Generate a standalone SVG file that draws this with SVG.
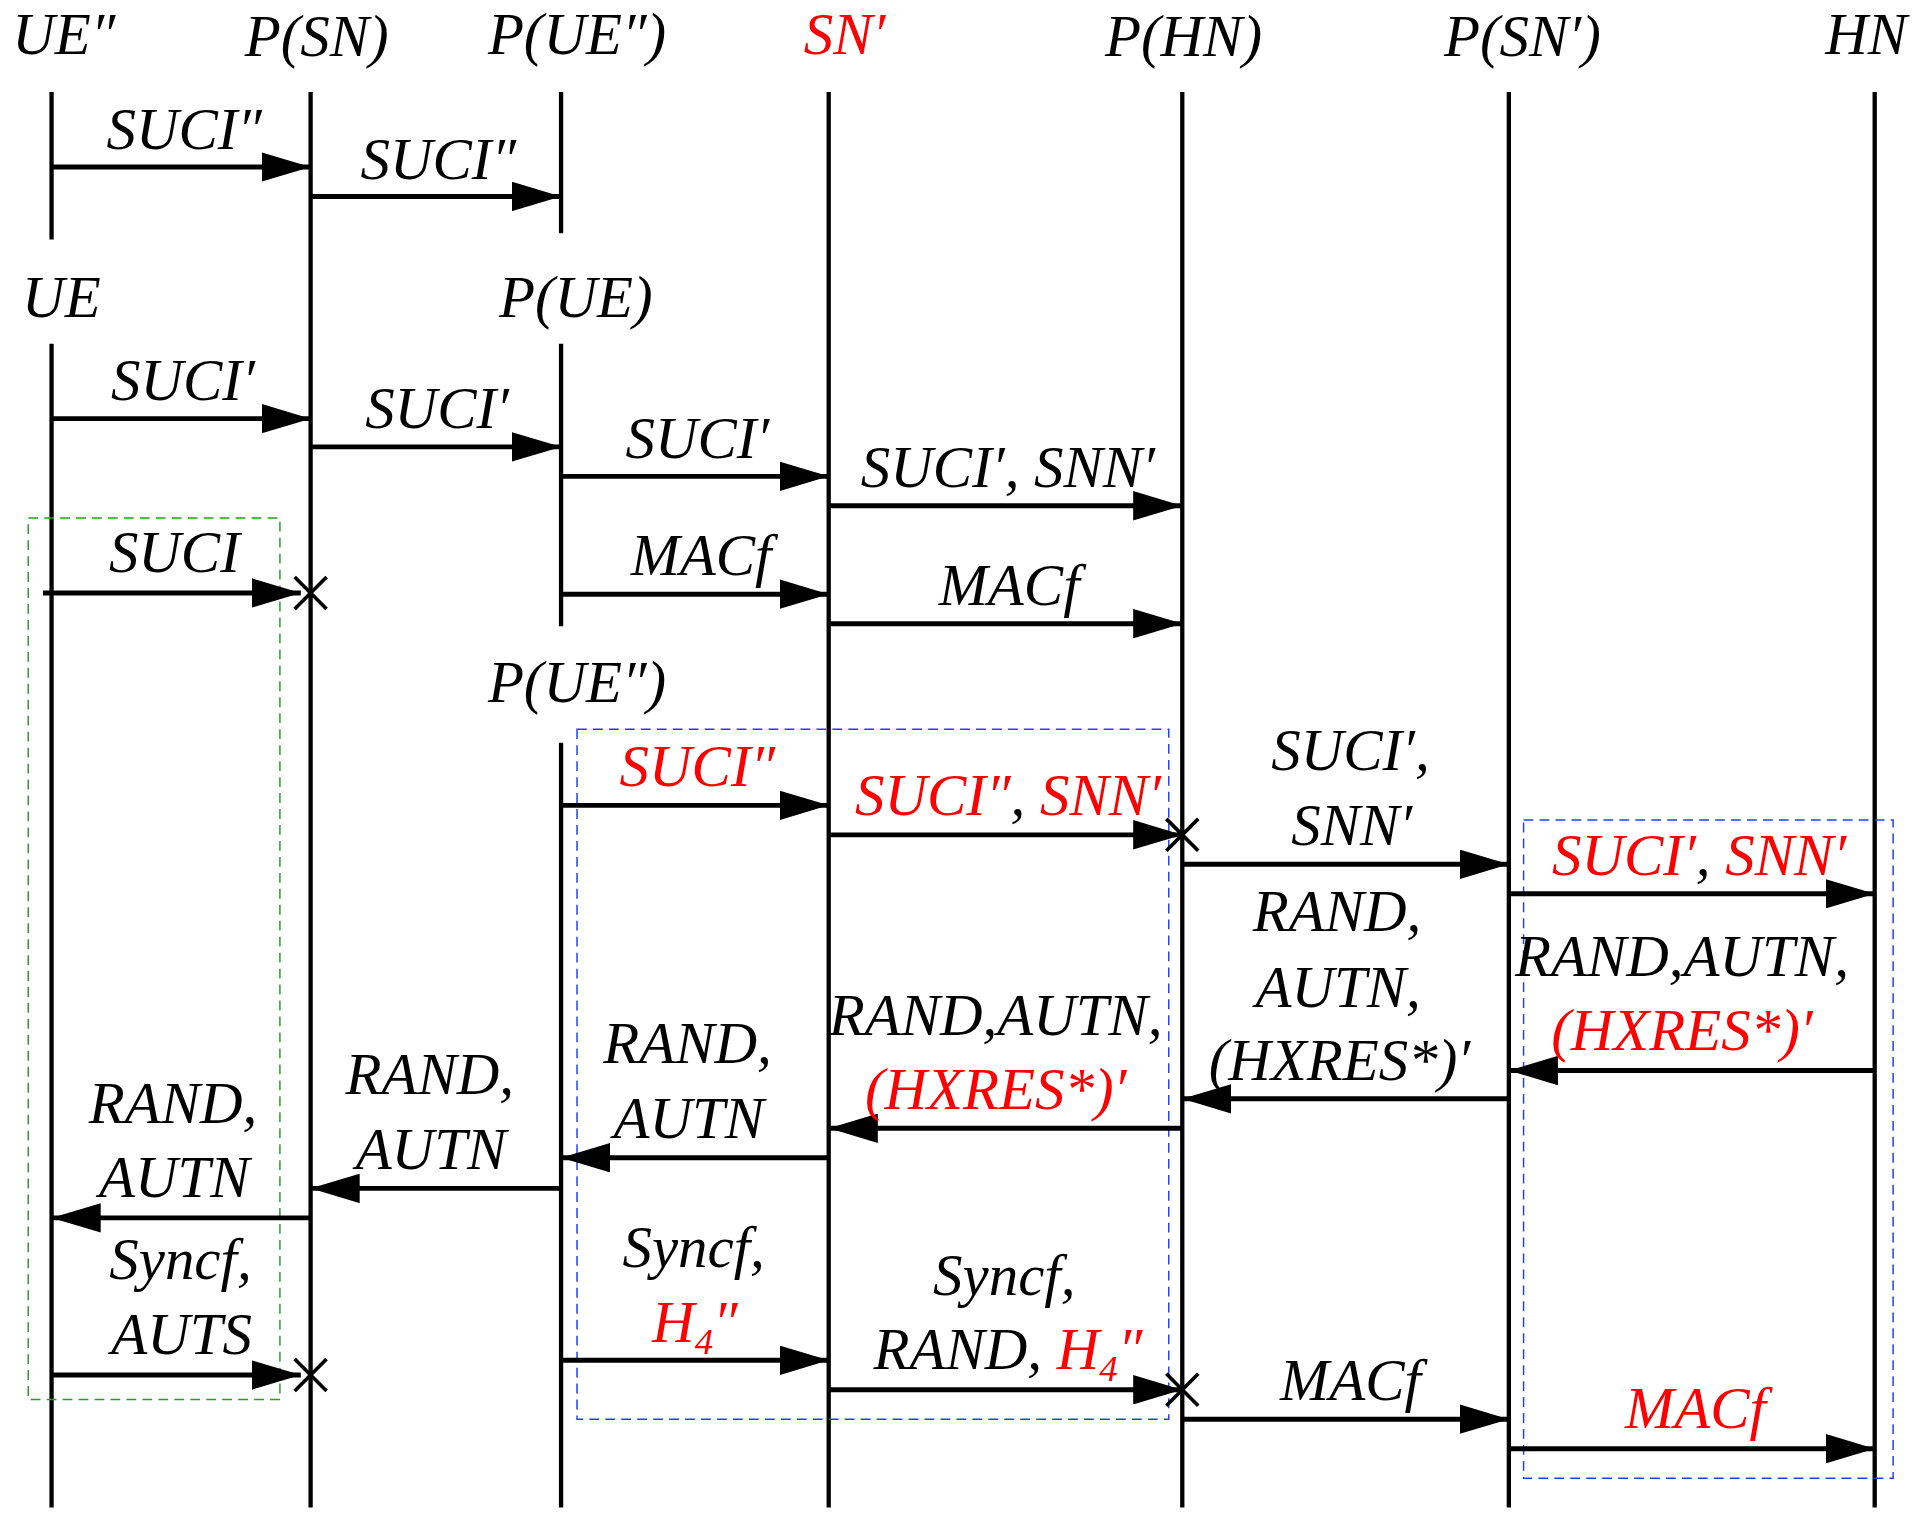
<svg xmlns="http://www.w3.org/2000/svg" width="1925" height="1522" viewBox="0 0 1925 1522">
<style>
text{font-family:"Liberation Serif","Times New Roman",serif;font-style:italic;font-size:48px;fill:#000;text-anchor:middle}
.r{fill:#f00}
.life{stroke:#000;stroke-width:3.5;fill:none}
.msg{stroke:#000;stroke-width:4;fill:none;marker-end:url(#ah)}
.x{stroke:#000;stroke-width:3;fill:none}
.g{stroke:#2a9a2a;stroke-width:1.2;fill:none;stroke-dasharray:8 5}
.b{stroke:#2040f0;stroke-width:1.2;fill:none;stroke-dasharray:8 5}
</style>
<defs>
<marker id="ah" markerUnits="userSpaceOnUse" viewBox="0 0 40 24" markerWidth="40" markerHeight="24" refX="40" refY="12" orient="auto"><path d="M0,0L40,12L0,24Z" fill="#000"/></marker>
</defs>
<rect width="1925" height="1522" fill="#fff"/>
<g transform="scale(1.2277)">
<g id="nodes">
<g id="UEpp"><text x="52" y="44">UE″</text><line class="life" x1="42" y1="75" x2="42" y2="195"/></g>
<g id="PSN"><text x="258" y="46">P(SN)</text><line class="life" x1="253" y1="75" x2="253" y2="1228"/></g>
<g id="PUEpp"><text x="470" y="44">P(UE″)</text><line class="life" x1="457" y1="75" x2="457" y2="190"/></g>
<g id="SNp"><text class="r" x="688" y="44">SN′</text><line class="life" x1="675" y1="75" x2="675" y2="1228"/></g>
<g id="PHN"><text x="964" y="46">P(HN)</text><line class="life" x1="963" y1="75" x2="963" y2="1228"/></g>
<g id="PSNp"><text x="1240" y="46">P(SN′)</text><line class="life" x1="1229" y1="75" x2="1229" y2="1228"/></g>
<g id="HN"><text x="1520" y="44">HN</text><line class="life" x1="1527" y1="75" x2="1527" y2="1228"/></g>
<g id="UE"><text x="50" y="258">UE</text><line class="life" x1="42" y1="280" x2="42" y2="1228"/></g>
<g id="PUE"><text x="469" y="258">P(UE)</text><line class="life" x1="457" y1="280" x2="457" y2="510"/></g>
<g id="PUEpp2"><text x="470" y="572">P(UE″)</text><line class="life" x1="457" y1="605" x2="457" y2="1228"/></g>
</g>
<g id="boxes">
<rect class="g" x="23" y="422" width="205" height="718"/>
<rect class="b" x="470" y="594" width="482" height="562"/>
<rect class="b" x="1241" y="668" width="301" height="536"/>
</g>
<g id="connectors">
<line class="msg" x1="42" y1="136" x2="253" y2="136"/><text x="150" y="121">SUCI″</text>
<line class="msg" x1="253" y1="160" x2="457" y2="160"/><text x="357" y="146">SUCI″</text>
<line class="msg" x1="42" y1="341" x2="253" y2="341"/><text x="149" y="326">SUCI′</text>
<line class="msg" x1="253" y1="364" x2="457" y2="364"/><text x="356" y="349">SUCI′</text>
<line class="msg" x1="457" y1="388" x2="675" y2="388"/><text x="568" y="373">SUCI′</text>
<line class="msg" x1="675" y1="412" x2="963" y2="412"/><text x="821" y="397">SUCI′, SNN′</text>
<line class="msg" x1="35" y1="483" x2="245" y2="483"/><text x="142" y="466">SUCI</text>
<path class="x" d="M240,470L266,496M266,470L240,496"/>
<line class="msg" x1="457" y1="484" x2="675" y2="484"/><text x="571" y="468">MACf</text>
<line class="msg" x1="675" y1="508" x2="963" y2="508"/><text x="822" y="493">MACf</text>
<line class="msg" x1="457" y1="656" x2="675" y2="656"/><text class="r" x="568" y="640">SUCI″</text>
<line class="msg" x1="675" y1="680" x2="963" y2="680"/><text x="821" y="664"><tspan class="r">SUCI″</tspan>, <tspan class="r">SNN′</tspan></text>
<path class="x" d="M950,667L976,693M976,667L950,693"/>
<line class="msg" x1="963" y1="704" x2="1229" y2="704"/><text x="1100" y="627">SUCI′,</text><text x="1101" y="688">SNN′</text>
<line class="msg" x1="1229" y1="728" x2="1527" y2="728"/><text x="1384" y="713"><tspan class="r">SUCI′</tspan>, <tspan class="r">SNN′</tspan></text>
<line class="msg" x1="1527" y1="872" x2="1229" y2="872"/><text x="1370" y="795">RAND,AUTN,</text><text class="r" x="1370" y="855">(HXRES*)′</text>
<line class="msg" x1="1229" y1="895" x2="963" y2="895"/><text x="1089" y="758">RAND,</text><text x="1090" y="820">AUTN,</text><text x="1091" y="880">(HXRES*)′</text>
<line class="msg" x1="963" y1="919" x2="675" y2="919"/><text x="811" y="843">RAND,AUTN,</text><text class="r" x="811" y="903">(HXRES*)′</text>
<line class="msg" x1="675" y1="943" x2="457" y2="943"/><text x="560" y="866">RAND,</text><text x="561" y="927">AUTN</text>
<line class="msg" x1="457" y1="968" x2="253" y2="968"/><text x="350" y="891">RAND,</text><text x="351" y="952">AUTN</text>
<line class="msg" x1="253" y1="992" x2="42" y2="992"/><text x="141" y="915">RAND,</text><text x="142" y="975">AUTN</text>
<line class="msg" x1="42" y1="1120" x2="245" y2="1120"/><text x="147" y="1042">Syncf,</text><text x="148" y="1103">AUTS</text>
<path class="x" d="M240,1107L266,1133M266,1107L240,1133"/>
<line class="msg" x1="457" y1="1108" x2="675" y2="1108"/><text x="565" y="1032">Syncf,</text><text class="r" x="566" y="1093">H<tspan font-size="30" dy="10">4</tspan><tspan dy="-10">″</tspan></text>
<line class="msg" x1="675" y1="1132" x2="963" y2="1132"/><text x="818" y="1055">Syncf,</text><text x="821" y="1115">RAND, <tspan class="r">H</tspan><tspan class="r" font-size="30" dy="10">4</tspan><tspan class="r" dy="-10">″</tspan></text>
<path class="x" d="M950,1119L976,1145M976,1119L950,1145"/>
<line class="msg" x1="963" y1="1156" x2="1229" y2="1156"/><text x="1100" y="1140">MACf</text>
<line class="msg" x1="1229" y1="1180" x2="1527" y2="1180"/><text class="r" x="1381" y="1163">MACf</text>
</g>
</g>
</svg>
